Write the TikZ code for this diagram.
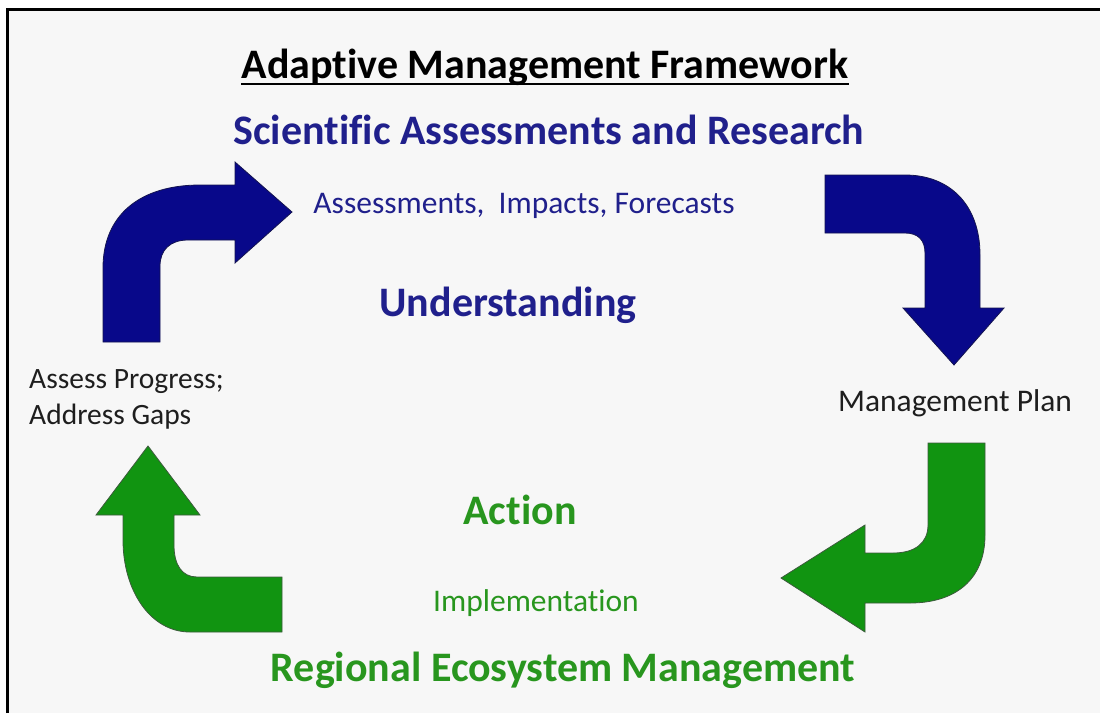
\documentclass[tikz,border=0pt]{standalone}
\usepackage{fontspec}
\setmainfont{Carlito}[Ligatures={NoCommon}]
\usetikzlibrary{calc}
\definecolor{bg}{RGB}{247,247,247}
\definecolor{navyfill}{RGB}{8,8,138}
\definecolor{navyedge}{RGB}{20,20,80}
\definecolor{navytext}{RGB}{32,32,140}
\definecolor{greenfill}{RGB}{17,148,17}
\definecolor{greenedge}{RGB}{60,90,60}
\definecolor{greentext}{RGB}{40,150,30}
\definecolor{darktext}{RGB}{30,30,30}
\tikzset{
  bigtitle/.style={font=\bfseries\fontsize{42}{48}\selectfont, text=black, inner sep=0pt},
  bluehead/.style={font=\bfseries\fontsize{42}{48}\selectfont, text=navytext, inner sep=0pt},
  bluesub/.style={font=\fontsize{31.5}{36}\selectfont, text=navytext, inner sep=0pt},
  greenhead/.style={font=\bfseries\fontsize{42}{48}\selectfont, text=greentext, inner sep=0pt},
  greensub/.style={font=\fontsize{31.5}{36}\selectfont, text=greentext, inner sep=0pt},
  plainlabel/.style={font=\fontsize{31.5}{36}\selectfont, text=darktext, inner sep=0pt},
  sidelabel/.style={font=\fontsize{29.5}{36}\selectfont, text=darktext, inner sep=0pt},
  bluearrow/.style={fill=navyfill, draw=navyedge, line width=0.8pt, line join=miter},
  greenarrow/.style={fill=greenfill, draw=greenedge, line width=0.8pt, line join=miter},
}
\begin{document}
\begin{tikzpicture}[x=1pt,y=-1pt]
\useasboundingbox (0,0) rectangle (1100,713);
\fill[white] (0,0) rectangle (1100,713);
\fill[bg] (7.5,9.5) rectangle (1100,713);
\draw[line width=3pt] (7.5,713) -- (7.5,9.5) -- (1100,9.5);

% texts
\node[bigtitle] (title) at (545,67) {Adaptive Management Framework};
\draw[line width=2.5pt] ($(title.base west)+(0,6)$) -- ($(title.base east)+(0,6)$);
\node[bluehead] (sci) at (549,130) {Scientific Assessments and Research};
\node[bluesub] (aif) at (524,206) {Assessments,\ \ Impacts, Forecasts};
\node[bluehead] (und) at (508,305) {Understanding};
\node[sidelabel, anchor=west, align=left] (assess) at (29,399) {Assess Progress;\\Address Gaps};
\node[plainlabel] (plan) at (955,403) {Management Plan};
\node[greenhead] (action) at (520,510) {Action};
\node[greensub] (impl) at (536,603) {Implementation};
\node[greenhead] (reg) at (563,670) {Regional Ecosystem Management};

% arrow 1: up then right
\draw[bluearrow] (103,342) -- (103,268)
  .. controls (103,215) and (140,185) .. (200,185)
  -- (235,185) -- (235,162) -- (292,212) -- (235,263) -- (235,240) -- (188,240)
  .. controls (170,240) and (160,250) .. (160,266) -- (160,342) -- cycle;

% arrow 2: right then down
\draw[bluearrow] (825,175) -- (905,175)
  .. controls (950,175) and (980,205) .. (980,255)
  -- (980,308) -- (1004,308) -- (954,365) -- (903,308) -- (925,308) -- (925,253)
  .. controls (925,240) and (918,233) .. (905,233) -- (825,233) -- cycle;

% arrow 3: down then left
\draw[greenarrow] (985,443) -- (985,535)
  .. controls (985,580) and (955,603) .. (910,603)
  -- (865,603) -- (865,632) -- (781,578) -- (865,525) -- (865,553) -- (893,553)
  .. controls (915,553) and (928,543) .. (928,525) -- (928,443) -- cycle;

% arrow 4: left then up
\draw[greenarrow] (282,632) -- (190,632)
  .. controls (150,632) and (123,590) .. (123,540)
  -- (123,515) -- (96,515) -- (148,446) -- (200,515) -- (174,515) -- (174,545)
  .. controls (174,565) and (182,577) .. (197,577) -- (282,577) -- cycle;
\end{tikzpicture}
\end{document}
